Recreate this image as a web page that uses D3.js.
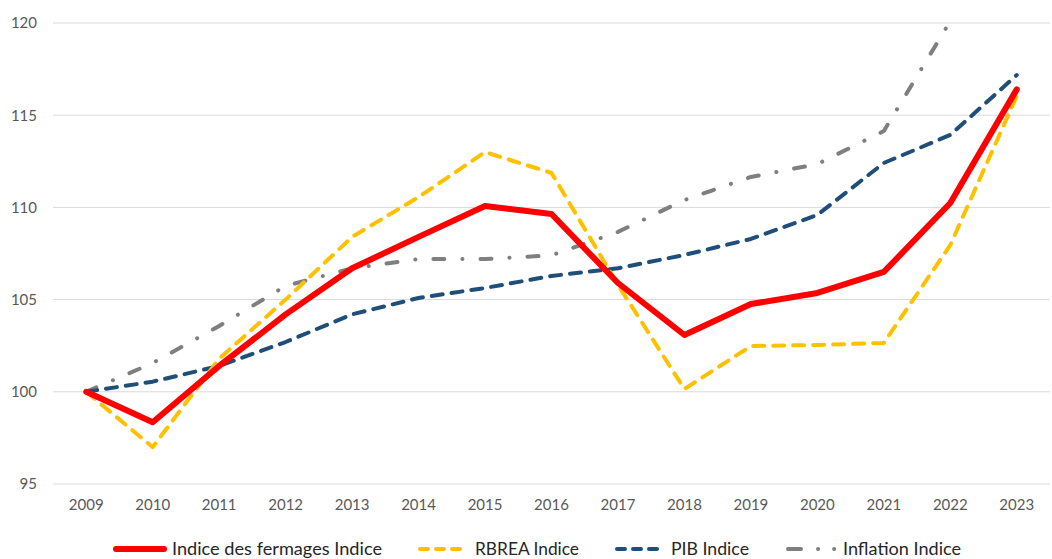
<!DOCTYPE html>
<html>
<head>
<meta charset="utf-8">
<script src="https://cdn.jsdelivr.net/npm/d3@7"></script>
<style>
  body { margin: 0; background: #fff; }
  text { font-family: Lato, "Open Sans", sans-serif; }
</style>
</head>
<body>
<svg id="chart"></svg>
<script>
const years = ["2009","2010","2011","2012","2013","2014","2015","2016","2017","2018","2019","2020","2021","2022","2023"];
const fermages = [100, 98.35, 101.4, 104.2, 106.7, 108.4, 110.08, 109.64, 105.9, 103.08, 104.76, 105.36, 106.5, 110.24, 116.4];
const rbrea = [100, 97.0, 101.8, 105.0, 108.4, 110.56, 113.0, 111.87, 105.8, 100.15, 102.48, 102.54, 102.65, 107.96, 116.04];
const pib = [100, 100.55, 101.4, 102.7, 104.2, 105.09, 105.63, 106.28, 106.7, 107.42, 108.29, 109.59, 112.41, 113.93, 117.18];
const inflation = [100, 101.56, 103.57, 105.74, 106.7, 107.2, 107.2, 107.4, 108.67, 110.4, 111.65, 112.35, 114.14, 120.1, null];
const yTicks = [95, 100, 105, 110, 115, 120];

const series = [
    { name: "Indice des fermages Indice", values: fermages, color: "#ff0000", width: 6, dash: null },
    { name: "RBREA Indice", values: rbrea, color: "#ffc000", width: 4, dash: "11,9" },
    { name: "PIB Indice", values: pib, color: "#1f4e79", width: 4, dash: "11,9" },
    { name: "Inflation Indice", values: inflation, color: "#7f7f7f", width: 4, dash: "11,18,0.1,18" }
];

const dimensions = {
    width: 1052,
    height: 559,
    margin: { top: 23, right: 2, bottom: 75, left: 53 }
};

const svg = d3.select("#chart")
    .attr("width", dimensions.width)
    .attr("height", dimensions.height);

const xScale = d3.scaleBand()
    .domain(years)
    .range([dimensions.margin.left, dimensions.width - dimensions.margin.right]);

const yScale = d3.scaleLinear()
    .domain([95, 120])
    .range([dimensions.height - dimensions.margin.bottom, dimensions.margin.top]);

// gridlines
svg.append("g")
    .selectAll("line")
    .data(yTicks)
    .enter()
    .append("line")
    .attr("x1", dimensions.margin.left)
    .attr("x2", dimensions.width - dimensions.margin.right)
    .attr("y1", d => yScale(d))
    .attr("y2", d => yScale(d))
    .attr("stroke", "#d9d9d9")
    .attr("stroke-width", 1);

// y axis labels
const yAxis = svg.append("g")
    .attr("transform", `translate(${dimensions.margin.left - 16}, 0)`)
    .call(d3.axisLeft(yScale).tickValues(yTicks).tickSize(0).tickPadding(0));
yAxis.select(".domain").remove();
yAxis.selectAll("text")
    .attr("fill", "#595959")
    .style("font-size", "15px");

// x axis labels
const xAxis = svg.append("g")
    .attr("transform", `translate(0, ${yScale(95) + 15})`)
    .call(d3.axisBottom(xScale).tickSize(0).tickPadding(0));
xAxis.select(".domain").remove();
xAxis.selectAll("text")
    .attr("fill", "#595959")
    .style("font-size", "15px");

svg.append("clipPath")
    .attr("id", "plot-clip")
    .append("rect")
    .attr("x", 0)
    .attr("y", yScale(120) - 2)
    .attr("width", dimensions.width)
    .attr("height", yScale(95) - yScale(120) + 4);

const line = d3.line()
    .defined(d => d != null)
    .x((d, i) => xScale(years[i]) + xScale.bandwidth() / 2)
    .y(d => yScale(d));

// draw in back-to-front order like the original
const drawOrder = [3, 2, 1, 0];
svg.append("g")
    .attr("clip-path", "url(#plot-clip)")
    .selectAll("path")
    .data(drawOrder.map(i => series[i]))
    .enter()
    .append("path")
    .attr("d", d => line(d.values))
    .attr("fill", "none")
    .attr("stroke", d => d.color)
    .attr("stroke-width", d => d.width)
    .attr("stroke-linecap", "round")
    .attr("stroke-linejoin", "round")
    .attr("stroke-dasharray", d => d.dash);

// legend (text stretched to the width of the original font)
const legendX = [116, 420, 617, 788];
const legendLen = [48, 41, 41, 50];
const legendTextX = [56, 55, 54, 55];
const legendTextW = [210, 104, 78, 118];
const legendDash = [null, "8,8", "8,8", "13,17,0.1,16,0.1,100"];
const legend = svg.selectAll(".legend")
    .data(series)
    .enter()
    .append("g")
    .attr("class", "legend")
    .attr("transform", (d, i) => `translate(${legendX[i]}, 549)`);

legend.append("line")
    .attr("x1", 0)
    .attr("x2", (d, i) => legendLen[i])
    .attr("stroke", d => d.color)
    .attr("stroke-width", d => d.width)
    .attr("stroke-linecap", "round")
    .attr("stroke-dasharray", (d, i) => legendDash[i]);

legend.append("text")
    .attr("x", (d, i) => legendTextX[i])
    .attr("dy", ".35em")
    .attr("fill", "#262626")
    .attr("textLength", (d, i) => legendTextW[i])
    .attr("lengthAdjust", "spacingAndGlyphs")
    .style("font-size", "17px")
    .text(d => d.name);
</script>
</body>
</html>
